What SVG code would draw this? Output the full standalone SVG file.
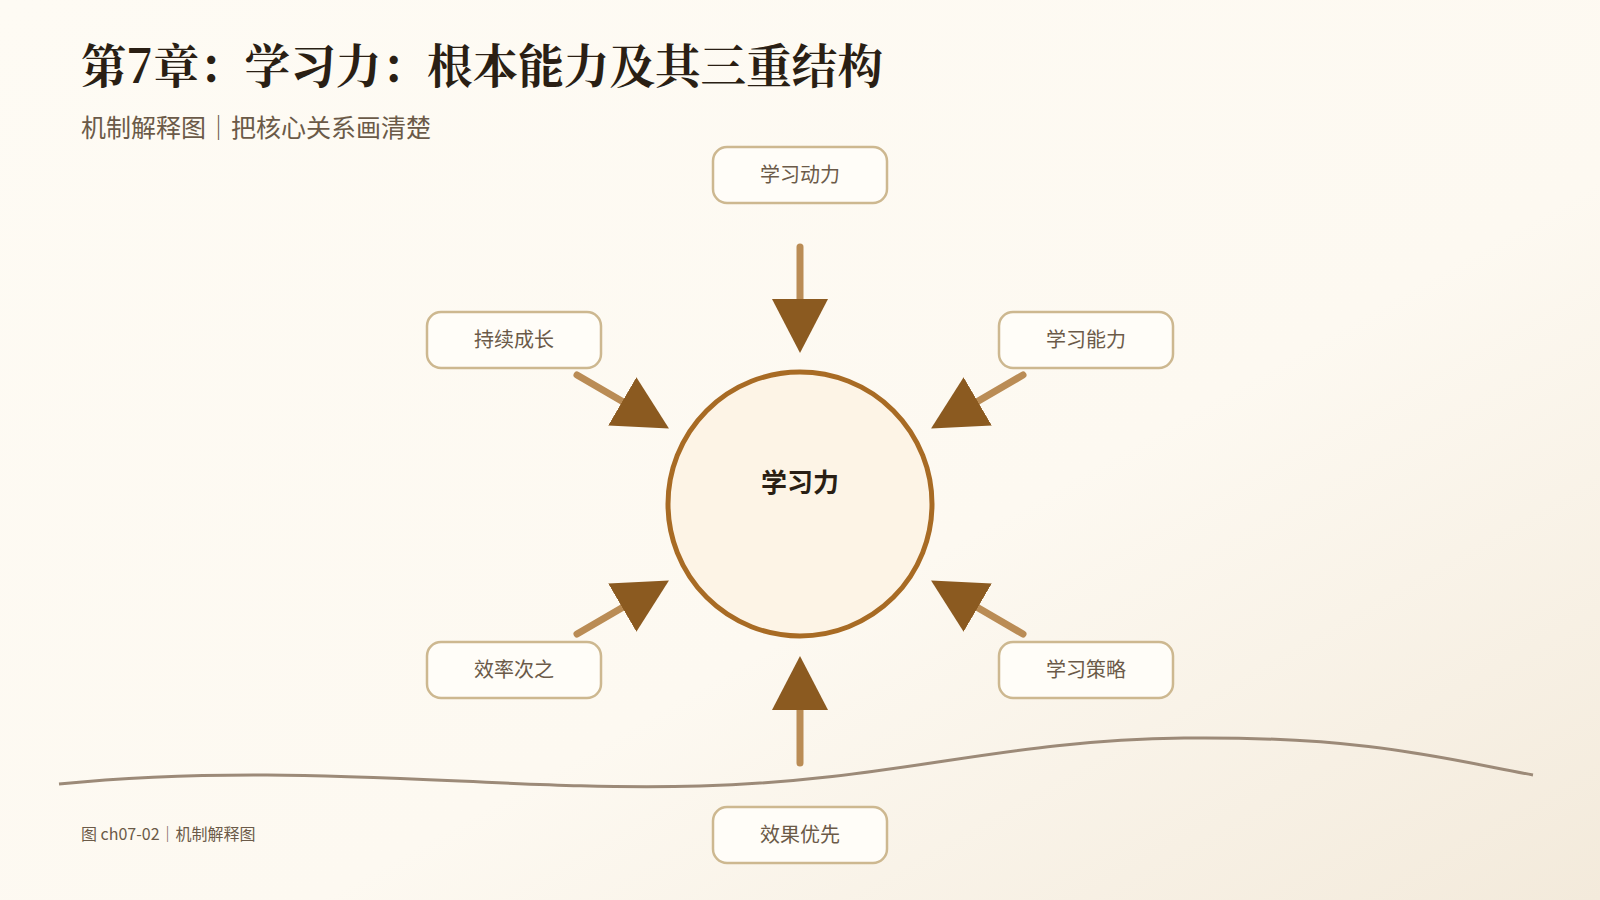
<svg xmlns="http://www.w3.org/2000/svg" width="1600" height="900" viewBox="0 0 1600 900">
<style>
.title{font-family:"Noto Serif CJK SC","Noto Sans CJK SC",serif;font-weight:700;font-size:47px;fill:#2a1f14}
.sub{font-family:"Noto Sans CJK SC",sans-serif;font-size:25px;fill:#6b5a48}
.foot{font-family:"Noto Sans CJK SC",sans-serif;font-size:16px;fill:#6b5a48}
.box{fill:#fffdf8;stroke:#cdb890;stroke-width:2.5}
.lbl{font-family:"Noto Sans CJK SC",sans-serif;font-size:20px;fill:#6b5a48;text-anchor:middle}
.conn{stroke:#ba8c55;stroke-width:7;stroke-linecap:round;fill:none}
</style>
<defs>
<linearGradient id="bg" x1="0" y1="0" x2="1" y2="1">
<stop offset="0" stop-color="#fefbf4"/><stop offset="0.6" stop-color="#fdf9f1"/><stop offset="1" stop-color="#f3eadb"/>
</linearGradient>
<marker id="ah" viewBox="0 0 54 56" refX="39" refY="28" markerWidth="54" markerHeight="56" markerUnits="userSpaceOnUse" orient="auto">
<path d="M0,0 L54,28 L0,56 Z" fill="#8b5a20"/>
</marker>
</defs>
<rect width="1600" height="900" fill="url(#bg)"/>
<text class="title" x="81" y="83" textLength="802" lengthAdjust="spacingAndGlyphs">第7章：学习力：根本能力及其三重结构</text>
<text class="sub" x="81" y="137">机制解释图｜把核心关系画清楚</text>
<text class="foot" x="81" y="840">图 ch07-02｜机制解释图</text>
<path d="M59,784 C300,760 500,792 700,786 S1000,740 1184,738 S1450,760 1533,775" fill="none" stroke="#9c8a78" stroke-width="3"/>
<g id="connectors">
<line class="conn" x1="800" y1="247" x2="800" y2="338" marker-end="url(#ah)"/>
<line class="conn" x1="577" y1="375" x2="656" y2="421" marker-end="url(#ah)"/>
<line class="conn" x1="1023" y1="375" x2="944" y2="421" marker-end="url(#ah)"/>
<line class="conn" x1="577" y1="634" x2="656" y2="588" marker-end="url(#ah)"/>
<line class="conn" x1="1023" y1="634" x2="944" y2="588" marker-end="url(#ah)"/>
<line class="conn" x1="800" y1="763" x2="800" y2="671" marker-end="url(#ah)"/>
</g>
<g id="center">
<circle cx="800" cy="504" r="132" fill="#fdf4e6" stroke="#a86b24" stroke-width="5"/>
<text x="800" y="492" text-anchor="middle" font-family="Noto Sans CJK SC,sans-serif" font-weight="700" font-size="26" fill="#2a1f14">学习力</text>
</g>
<g id="n1"><rect class="box" x="713" y="147" width="174" height="56" rx="14"/><text class="lbl" x="800" y="182">学习动力</text></g>
<g id="n2"><rect class="box" x="427" y="312" width="174" height="56" rx="14"/><text class="lbl" x="514" y="347">持续成长</text></g>
<g id="n3"><rect class="box" x="999" y="312" width="174" height="56" rx="14"/><text class="lbl" x="1086" y="347">学习能力</text></g>
<g id="n4"><rect class="box" x="427" y="642" width="174" height="56" rx="14"/><text class="lbl" x="514" y="677">效率次之</text></g>
<g id="n5"><rect class="box" x="999" y="642" width="174" height="56" rx="14"/><text class="lbl" x="1086" y="677">学习策略</text></g>
<g id="n6"><rect class="box" x="713" y="807" width="174" height="56" rx="14"/><text class="lbl" x="800" y="842">效果优先</text></g>
</svg>
